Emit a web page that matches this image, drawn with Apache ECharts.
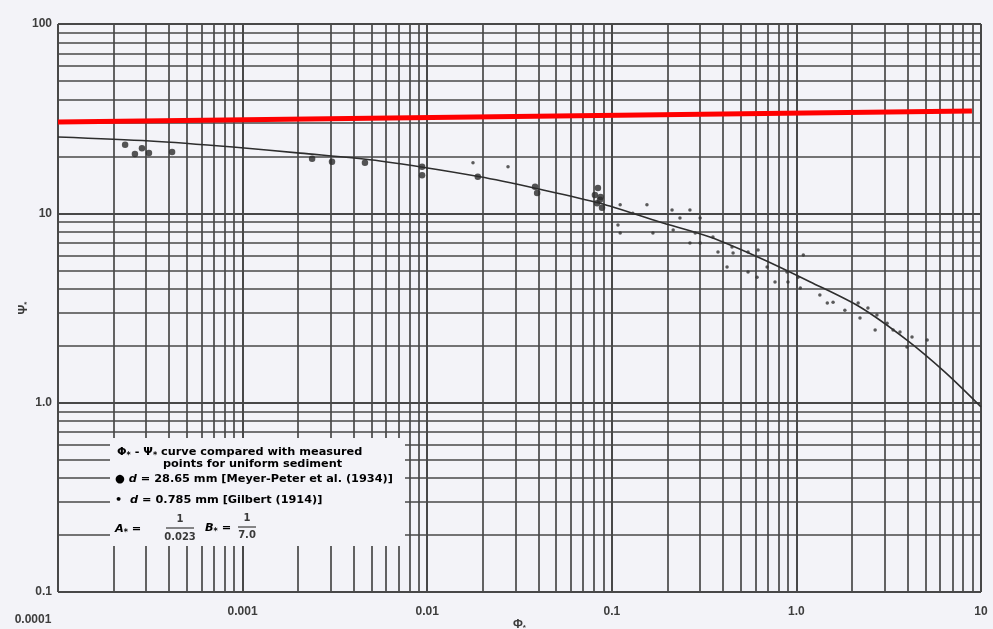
<!DOCTYPE html>
<html><head><meta charset="utf-8">
<script src="https://cdn.jsdelivr.net/npm/echarts@6/dist/echarts.min.js"></script>
<style>html,body{margin:0;padding:0;background:#f3f3f8;}#c{width:993px;height:629px;}</style>
</head><body><div id="c"></div>
<script>
// ---- tick labels ----
const xTickLabels = ['0.0001', '0.001', '0.01', '0.1', '1.0', '10'];
const yTickLabels = ['0.1', '1.0', '10', '100'];
const gridMultiples = [1, 2, 3, 4, 5, 6, 7, 8, 9];
const xDecades = [-4, -3, -2, -1, 0];
const yDecades = [-1, 0, 1];

// ---- data (Φ*, Ψ*) ----
const curvePoints = [
  [1e-4, 25.3], [3.15e-4, 24.1], [8.87e-4, 22.4], [2.05e-3, 20.8], [5.55e-3, 18.9],
  [0.0193, 15.6], [0.0408, 13.4], [0.0863, 11.3], [0.182, 9.0], [0.340, 7.50],
  [0.635, 5.81], [1.19, 4.34], [2.21, 3.20], [3.97, 2.14], [6.38, 1.45], [10, 0.95]
];
const meyerPeterPoints = [
  [2.31e-4, 23.0], [2.61e-4, 20.6], [2.85e-4, 22.1], [3.11e-4, 20.8], [4.15e-4, 21.1],
  [2.38e-3, 19.4], [3.05e-3, 18.7], [4.60e-3, 18.5], [9.38e-3, 17.6], [9.38e-3, 15.9],
  [0.0188, 15.6], [0.0384, 13.8], [0.0394, 12.8], [0.0841, 13.6], [0.0863, 11.8],
  [0.0885, 10.7], [0.0832, 11.3], [0.0810, 12.5], [0.0870, 12.2]
];
const gilbertPoints = [
  [0.0177, 18.5], [0.0274, 17.6], [0.111, 11.1], [0.130, 10.0], [0.155, 11.1],
  [0.108, 8.67], [0.111, 7.87], [0.167, 7.87], [0.212, 10.4], [0.265, 10.4],
  [0.301, 9.44], [0.234, 9.44], [0.215, 8.17], [0.283, 7.87], [0.265, 6.97],
  [0.301, 6.97], [0.353, 7.50], [0.376, 6.25], [0.448, 6.64], [0.454, 6.17],
  [0.547, 6.25], [0.620, 6.40], [0.421, 5.20], [0.547, 4.90], [0.612, 4.60],
  [0.694, 5.20], [0.766, 4.34], [0.889, 4.90], [0.900, 4.34], [1.02, 4.60],
  [1.05, 4.03], [1.09, 6.03], [1.34, 3.70], [1.58, 3.39], [1.83, 3.08],
  [2.16, 3.36], [2.21, 2.80], [2.44, 3.16], [2.73, 2.90], [2.67, 2.42],
  [3.10, 2.63], [3.34, 2.42], [3.64, 2.36], [3.97, 1.97], [5.11, 2.14],
  [4.23, 2.22], [1.47, 3.36]
];
const redLinePoints = [[1e-4, 30.4], [8.93, 34.7]];

// ---- grid lines from log decades ----
const gridColor = '#484848';
const markData = [];
xDecades.forEach(function (e) {
  gridMultiples.forEach(function (m) {
    markData.push({ xAxis: m * Math.pow(10, e), lineStyle: { width: m === 1 ? 2 : 1.7, color: gridColor, type: 'solid' } });
  });
});
markData.push({ xAxis: 10, lineStyle: { width: 2, color: gridColor, type: 'solid' } });
yDecades.forEach(function (e) {
  gridMultiples.forEach(function (m) {
    markData.push({ yAxis: m * Math.pow(10, e), lineStyle: { width: m === 1 ? 2 : 1.7, color: gridColor, type: 'solid' } });
  });
});
markData.push({ yAxis: 100, lineStyle: { width: 2, color: gridColor, type: 'solid' } });

const txt = '#3a3a3a';
const fontFam = '"Liberation Sans", Arial, sans-serif';
const legFam = '"DejaVu Sans", sans-serif';
const richBase = {
  t: { fontSize: 11.3, fontWeight: 'bold', fontFamily: legFam, color: txt },
  i: { fontSize: 11.3, fontWeight: 'bold', fontStyle: 'italic', fontFamily: legFam, color: txt },
  s: { fontSize: 8, fontWeight: 'bold', fontFamily: legFam, color: txt, padding: [7, 0, 0, 0] }
};
const nameRich = {
  m: { fontSize: 12, fontWeight: 'bold', color: txt, fontFamily: fontFam },
  s: { fontSize: 8, color: txt, fontWeight: 'bold', fontFamily: fontFam, padding: [7, 0, 0, 0] }
};

const chart = echarts.init(document.getElementById('c'));
chart.setOption({
  animation: false,
  backgroundColor: '#f3f3f8',
  grid: { left: 58, right: 12, top: 24, bottom: 37, outerBoundsMode: 'none', containLabel: false },
  xAxis: {
    type: 'log', logBase: 10, min: 0.0001, max: 10,
    axisLine: { show: false }, axisTick: { show: false }, splitLine: { show: false },
    name: '{m|Φ}{s|*}', nameLocation: 'middle', nameGap: 25, nameMoveOverlap: false,
    nameTextStyle: { rich: nameRich },
    axisLabel: {
      margin: 14, color: '#3d3d3d', fontSize: 12, fontWeight: 'bold', fontFamily: fontFam,
      formatter: function (v) {
        const idx = Math.round(Math.log10(v)) + 4;
        const s = xTickLabels[idx];
        return idx === 0 ? '{a|' + s + '}' : s;
      },
      rich: { a: { fontSize: 12, fontWeight: 'bold', color: '#3d3d3d', fontFamily: fontFam, padding: [8, 50, 0, 0] } }
    }
  },
  yAxis: {
    type: 'log', logBase: 10, min: 0.1, max: 100,
    axisLine: { show: false }, axisTick: { show: false }, splitLine: { show: false },
    name: '{m|Ψ}{s|*}', nameLocation: 'middle', nameGap: 27, nameRotate: 90, nameMoveOverlap: false,
    nameTextStyle: { rich: nameRich },
    axisLabel: {
      margin: 6, color: '#3d3d3d', fontSize: 12, fontWeight: 'bold', fontFamily: fontFam,
      formatter: function (v) { return yTickLabels[Math.round(Math.log10(v)) + 1]; }
    }
  },
  series: [
    {
      type: 'line', data: curvePoints, smooth: 0.3, symbol: 'none', z: 3,
      lineStyle: { color: '#2e2e2e', width: 1.6 },
      markLine: { silent: true, precision: 12, symbol: ['none', 'none'], label: { show: false }, data: markData, z: 1, animation: false }
    },
    {
      type: 'scatter', data: meyerPeterPoints, symbol: 'circle', symbolSize: 6.5, z: 4,
      itemStyle: { color: '#2b2b2b' }
    },
    {
      type: 'scatter', data: gilbertPoints, symbol: 'circle', symbolSize: 3.5, z: 4,
      itemStyle: { color: '#333333' }
    },
    {
      type: 'line', data: redLinePoints, symbol: 'none', z: 5,
      lineStyle: { color: '#ff0000', width: 5 }
    }
  ],
  graphic: [
    { type: 'rect', z: 100, shape: { x: 110, y: 438, width: 295, height: 108 }, style: { fill: '#f3f3f8' } },
    { type: 'text', z: 101, x: 117, y: 452, style: { text: '{t|Φ}{s|*}{t| - Ψ}{s|*}{t| curve compared with measured}', rich: richBase, verticalAlign: 'middle' } },
    { type: 'text', z: 101, x: 163, y: 464, style: { text: '{t|points for uniform sediment}', rich: richBase, verticalAlign: 'middle' } },
    { type: 'text', z: 101, x: 115, y: 479, style: { text: '{t|● }{i|d}{t| = 28.65 mm [Meyer-Peter et al. (1934)]}', rich: richBase, verticalAlign: 'middle' } },
    { type: 'text', z: 101, x: 115, y: 500, style: { text: '{t|•  }{i|d}{t| = 0.785 mm [Gilbert (1914)]}', rich: richBase, verticalAlign: 'middle' } },
    { type: 'text', z: 101, x: 115, y: 529, style: { text: '{i|A}{s|*}{t| =}', rich: richBase, verticalAlign: 'middle' } },
    { type: 'text', z: 101, x: 180, y: 519, style: { text: '1', font: 'bold 10px ' + legFam, fill: txt, align: 'center', verticalAlign: 'middle' } },
    { type: 'line', z: 101, shape: { x1: 166, y1: 528, x2: 194, y2: 528 }, style: { stroke: txt, lineWidth: 1.2 } },
    { type: 'text', z: 101, x: 180, y: 537, style: { text: '0.023', font: 'bold 10px ' + legFam, fill: txt, align: 'center', verticalAlign: 'middle' } },
    { type: 'text', z: 101, x: 205, y: 528, style: { text: '{i|B}{s|*}{t| =}', rich: richBase, verticalAlign: 'middle' } },
    { type: 'text', z: 101, x: 247, y: 518, style: { text: '1', font: 'bold 10px ' + legFam, fill: txt, align: 'center', verticalAlign: 'middle' } },
    { type: 'line', z: 101, shape: { x1: 238, y1: 527, x2: 256, y2: 527 }, style: { stroke: txt, lineWidth: 1.2 } },
    { type: 'text', z: 101, x: 247, y: 535, style: { text: '7.0', font: 'bold 10px ' + legFam, fill: txt, align: 'center', verticalAlign: 'middle' } }
  ]
});
</script>
</body></html>
